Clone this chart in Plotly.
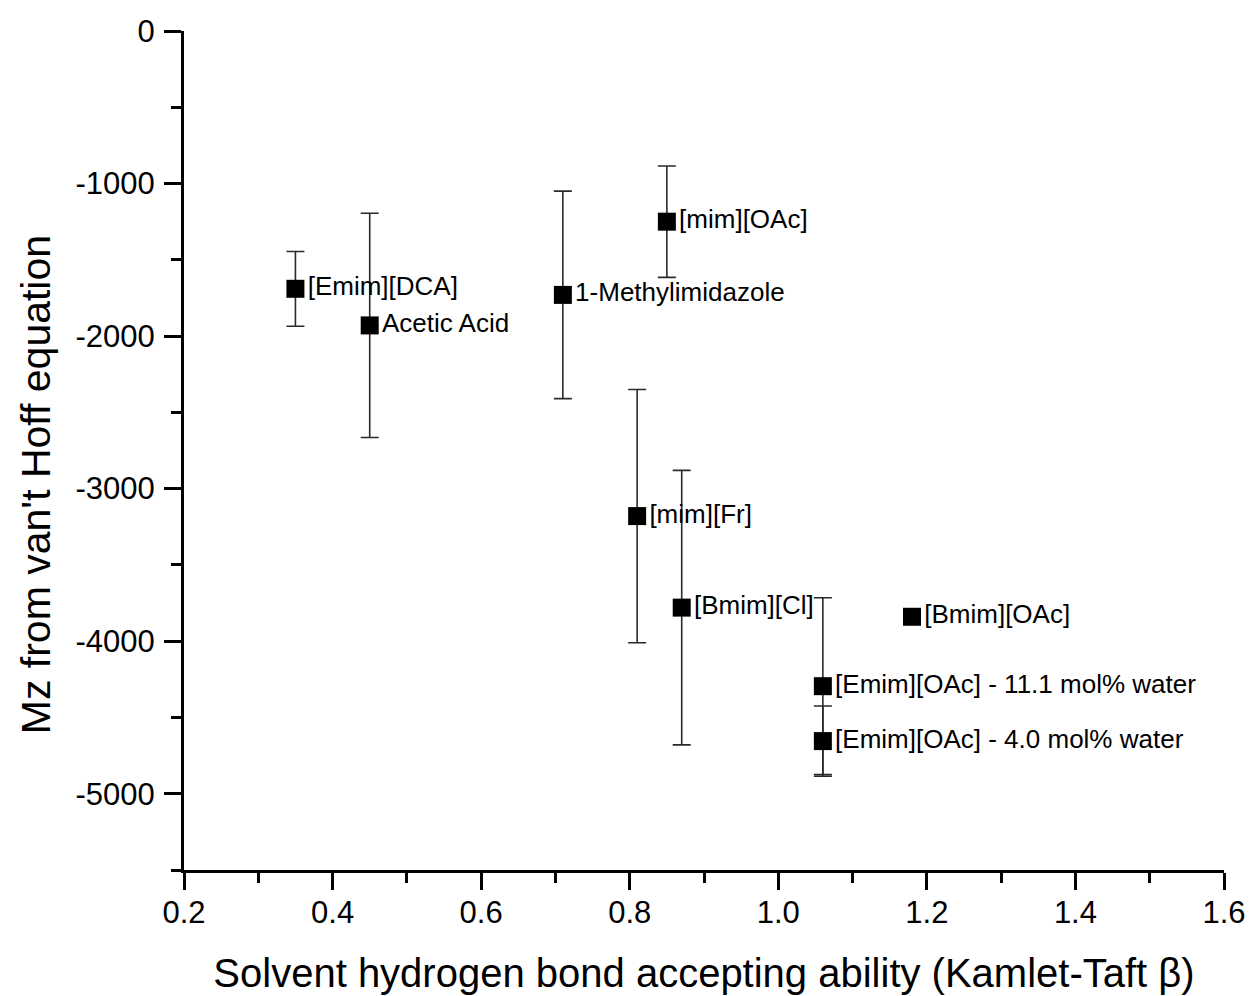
import plotly.graph_objects as go

# Solvents and their Kamlet-Taft beta, Mz from van't Hoff fits and uncertainties
solvents = [
    "[Emim][DCA]",
    "Acetic Acid",
    "1-Methylimidazole",
    "[mim][OAc]",
    "[mim][Fr]",
    "[Bmim][Cl]",
    "[Bmim][OAc]",
    "[Emim][OAc] - 11.1 mol% water",
    "[Emim][OAc] - 4.0 mol% water",
]
beta = [0.35, 0.45, 0.71, 0.85, 0.81, 0.87, 1.18, 1.06, 1.06]
mz = [-1690, -1930, -1730, -1250, -3180, -3780, -3840, -4295, -4655]
mz_err = [245, 735, 680, 365, 830, 900, 0, 580, 230]

x_ticks = [0.2, 0.4, 0.6, 0.8, 1.0, 1.2, 1.4, 1.6]
x_tick_text = ["0.2", "0.4", "0.6", "0.8", "1.0", "1.2", "1.4", "1.6"]
y_ticks = [0, -1000, -2000, -3000, -4000, -5000]
y_tick_text = ["0", "-1000", "-2000", "-3000", "-4000", "-5000"]

FONT = "Liberation Sans, Arial, sans-serif"

fig = go.Figure()
fig.add_trace(
    go.Scatter(
        x=beta,
        y=mz,
        mode="markers+text",
        text=solvents,
        textposition="middle right",
        textfont=dict(family=FONT, size=26, color="black"),
        marker=dict(symbol="square", size=18, color="black"),
        error_y=dict(
            type="data",
            array=mz_err,
            visible=True,
            color="#2a2a2a",
            thickness=1.6,
            width=9,
        ),
        showlegend=False,
        cliponaxis=False,
    )
)

axis_common = dict(
    showline=True,
    linecolor="black",
    linewidth=3,
    ticks="outside",
    ticklen=17,
    tickwidth=2.5,
    tickcolor="black",
    showgrid=False,
    zeroline=False,
    mirror=False,
    automargin=False,
    tickfont=dict(family=FONT, size=31, color="black"),
)

fig.update_xaxes(
    range=[0.2, 1.6],
    tickvals=x_ticks,
    ticktext=x_tick_text,
    minor=dict(ticks="outside", ticklen=10, tickwidth=2.5, tickcolor="black", dtick=0.1, tick0=0.2),
    ticklabelstandoff=-4,
    title=dict(
        text="Solvent hydrogen bond accepting ability (Kamlet-Taft β)",
        font=dict(family=FONT, size=40, color="black"),
        standoff=30,
    ),
    **axis_common,
)
fig.update_yaxes(
    range=[-5500, 0],
    tickvals=y_ticks,
    ticktext=y_tick_text,
    minor=dict(ticks="outside", ticklen=10, tickwidth=2.5, tickcolor="black", dtick=500, tick0=0),
    ticklabelstandoff=3,
    **axis_common,
)

# vertical axis title, placed by hand so it sits a little below the axis centre
fig.add_annotation(
    text="Mz from van't Hoff equation",
    textangle=-90,
    xref="paper",
    yref="paper",
    x=-0.142,
    y=0.459,
    xanchor="center",
    yanchor="middle",
    showarrow=False,
    font=dict(family=FONT, size=41, color="black"),
)

fig.update_layout(
    width=1251,
    height=996,
    margin=dict(l=184, r=27, t=31, b=126),
    paper_bgcolor="white",
    plot_bgcolor="white",
    font=dict(family=FONT, color="black"),
)

fig.write_html("out.html")
